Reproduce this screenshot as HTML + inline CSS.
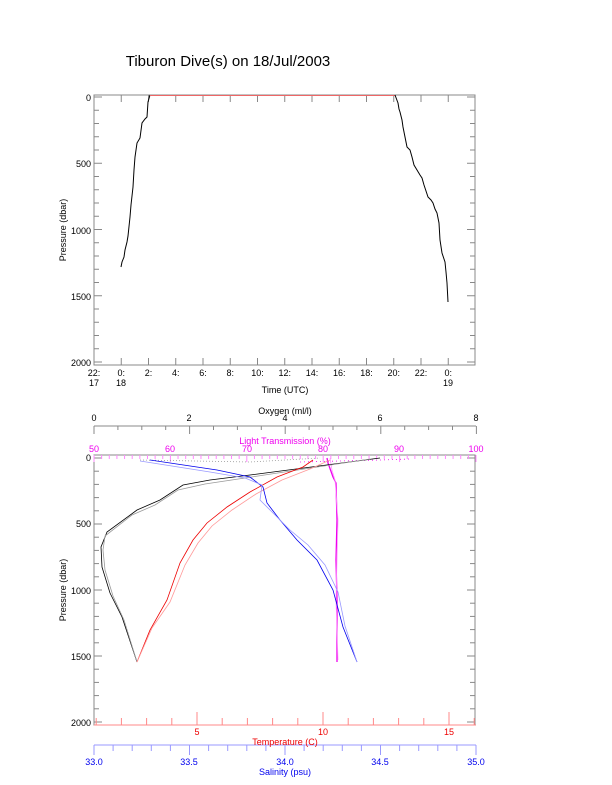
<!DOCTYPE html>
<html><head><meta charset="utf-8"><style>
body{margin:0;background:#fff}
svg{display:block;font-family:"Liberation Sans",sans-serif}
</style></head><body>
<svg id="s" width="612" height="785" xmlns="http://www.w3.org/2000/svg">
<rect width="612" height="785" fill="#fff"/>
<text x="228" y="66" font-size="15" text-anchor="middle">Tiburon Dive(s) on 18/Jul/2003</text>
<rect x="94" y="95" width="381" height="270" fill="none" stroke="#888" stroke-width="1"/>
<g id="t1" stroke="#888" stroke-width="1"></g>
<g font-size="9" text-anchor="end">
<text x="91" y="101">0</text><text x="91" y="167">500</text><text x="91" y="234">1000</text><text x="91" y="300">1500</text><text x="91" y="366">2000</text>
</g>
<text transform="translate(66,230) rotate(-90)" font-size="9" text-anchor="middle">Pressure (dbar)</text>
<g font-size="9" text-anchor="middle" id="tl"></g>
<text x="285" y="393" font-size="9" text-anchor="middle">Time (UTC)</text>
<polyline fill="none" stroke="#000" stroke-width="1" points="121,267 122,262 124,257 125,250 127,242 128,236 130,217 131,205 133,187 134,170 135,157 137,143 140,138 142,123 145,119 147,117 148,102 150,95"/>
<line x1="150" y1="95.5" x2="395" y2="95.5" stroke="#e66" stroke-width="1"/>
<polyline fill="none" stroke="#000" stroke-width="1" points="395,95 398,103 399,109 400,112 402,120 403,127 405,137 407,147 410,150 412,157 414,165 417,170 420,175 422,178 424,185 425,188 428,197 431,200 433,203 435,209 437,213 439,223 440,240 442,253 445,262 446,272 447,283 448,302"/>
<rect x="94" y="455" width="381" height="270" fill="none" stroke="#888" stroke-width="1"/>
<g id="t2"></g>
<line x1="94" y1="426" x2="476" y2="426" stroke="#888"/>
<line x1="94" y1="745" x2="476" y2="745" stroke="#99f"/>
<line x1="94" y1="725" x2="476" y2="725" stroke="#f88"/>
<g font-size="9" text-anchor="middle">
<text x="94" y="421">0</text><text x="189" y="421">2</text><text x="285" y="421">4</text><text x="380" y="421">6</text><text x="476" y="421">8</text>
<text x="285" y="414">Oxygen (ml/l)</text>
</g>
<g font-size="9" text-anchor="middle" fill="#e0e">
<text x="94" y="452">50</text><text x="170" y="452">60</text><text x="247" y="452">70</text><text x="323" y="452">80</text><text x="399" y="452">90</text><text x="476" y="452">100</text>
<text x="285" y="444">Light Transmission (%)</text>
</g>
<g font-size="9" text-anchor="end">
<text x="91" y="461">0</text><text x="91" y="527">500</text><text x="91" y="594">1000</text><text x="91" y="660">1500</text><text x="91" y="726">2000</text>
</g>
<text transform="translate(66,590) rotate(-90)" font-size="9" text-anchor="middle">Pressure (dbar)</text>
<g font-size="9" text-anchor="middle" fill="#e00">
<text x="197" y="735">5</text><text x="323" y="735">10</text><text x="449" y="735">15</text>
<text x="285" y="745">Temperature (C)</text>
</g>
<g font-size="9" text-anchor="middle" fill="#00e">
<text x="94" y="765">33.0</text><text x="189" y="765">33.5</text><text x="285" y="765">34.0</text><text x="380" y="765">34.5</text><text x="476" y="765">35.0</text>
<text x="285" y="775">Salinity (psu)</text>
</g>
<g fill="none" stroke-width="0.8">
<polyline stroke="#e0e" stroke-width="1.3" points="327,458 328,463 333,477 336,483 337,520 336,560 337,600 337,662"/>
<polyline stroke="#f9f" points="330,458 332,470 335,480 338,520 336,600 338,660"/>
<polyline stroke="#e0e" stroke-dasharray="1,3" points="300,462 380,460 410,459"/>
<polyline stroke="#999" stroke-dasharray="1,2" points="140,460 250,462 320,458"/>
<polyline stroke="#000" points="380,458 250,475 210,480 183,485 160,500 137,510 107,532 101,547 102,567 110,593 122,617 137,662"/>
<polyline stroke="#999" points="370,459 245,478 205,484 178,490 155,505 132,515 105,536 103,550 105,570 113,596 124,620 137,662"/>
<polyline stroke="#e00" points="137,662 150,630 167,600 180,563 193,540 207,523 227,507 250,492 277,477 303,467 313,460"/>
<polyline stroke="#f99" points="137,662 152,628 170,602 185,565 198,543 212,526 232,510 256,494 282,480 310,469 330,460"/>
<polyline stroke="#00e" points="357,662 343,627 333,590 317,560 297,540 280,520 267,503 263,487 250,477 217,470 150,460"/>
<polyline stroke="#99f" points="357,662 345,626 338,592 325,565 308,545 290,530 272,512 260,500 262,485 245,478 210,472 140,461"/>
</g>
</svg>
<script>
var s='http://www.w3.org/2000/svg';
function L(g,x1,y1,x2,y2,c){var l=document.createElementNS(s,'line');l.setAttribute('x1',x1);l.setAttribute('y1',y1);l.setAttribute('x2',x2);l.setAttribute('y2',y2);l.setAttribute('stroke',c);g.appendChild(l);}
function T(g,x,y,t){var e=document.createElementNS(s,'text');e.setAttribute('x',x);e.setAttribute('y',y);e.textContent=t;g.appendChild(e);}
var t1=document.getElementById('t1'),t2=document.getElementById('t2'),tl=document.getElementById('tl');
for(var p=0;p<=2000;p+=100){var y=97+p*0.1325;var w=(p%500==0)?8:5;L(t1,94,y,94+w,y,'#888');L(t1,475,y,475-w,y,'#888');
var y2=458+p*0.132;L(t2,94,y2,94+w,y2,'#888');L(t2,475,y2,475-w,y2,'#888');}
var labs=['22:','0:','2:','4:','6:','8:','10:','12:','14:','16:','18:','20:','22:','0:'];
for(var i=0;i<14;i++){var x=94+i*27.25;L(t1,x,365,x,358,'#888');L(t1,x,95,x,102,'#888');T(tl,x,376,labs[i]);}
T(tl,94,386,'17');T(tl,121,386,'18');T(tl,448,386,'19');
for(var i=0;i<=16;i++){var x=94+i*23.9;L(t2,x,426,x,i%4==0?434:430,'#888');}
for(var i=0;i<=50;i++){var x=94+i*7.64;L(t2,x,455,x,i%10==0?462:459,'#f8f');}
for(var tc=1;tc<=16;tc++){var x=197+(tc-5)*25.2;if(x<94||x>476)continue;L(t2,x,725,x,tc%5==0?712:718,'#f88');}
for(var i=0;i<=20;i++){var x=94+i*19.1;L(t2,x,745,x,i%5==0?755:751,'#99f');}
</script>
</body></html>
